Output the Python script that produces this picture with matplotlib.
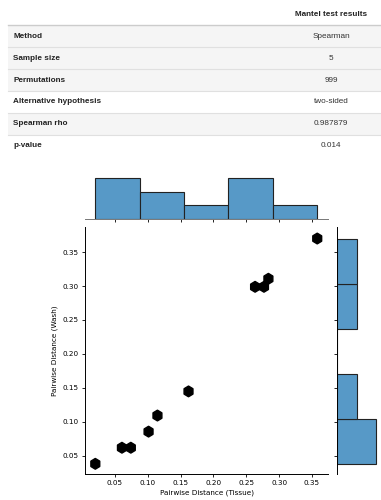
import matplotlib
matplotlib.use("Agg")
import matplotlib.pyplot as plt
from matplotlib.colors import ListedColormap
from matplotlib.patches import Rectangle
import numpy as np

# Mantel test results (table)
row_labels = ['Method', 'Sample size', 'Permutations', 'Alternative hypothesis',
              'Spearman rho', 'p-value']
row_values = ['Spearman', '5', '999', 'two-sided', '0.987879', '0.014']
row_shaded = [True, True, True, False, True, False]

# pairwise distances
tissue = [0.020, 0.062, 0.075, 0.102, 0.115, 0.163, 0.265, 0.278, 0.284, 0.358]
wash = [0.038, 0.062, 0.062, 0.086, 0.110, 0.145, 0.300, 0.300, 0.312, 0.370]

W, H = 381, 500
fig = plt.figure(figsize=(W / 100, H / 100), dpi=100)

# tabelle in pixel-koordinaten
tab = fig.add_axes([0, 0, 1, 1])
tab.set_xlim(0, W)
tab.set_ylim(H, 0)
tab.axis('off')
tfont = dict(family='Liberation Sans', fontsize=5.9)
tab.text(331, 14.3, 'Mantel test results', ha='center', va='center',
         fontweight='bold', color='#222222', **tfont)
tab.plot([8, W], [25, 25], color='#cccccc', lw=1.0)
row_h = 21.8
for i, (lab, val, sh) in enumerate(zip(row_labels, row_values, row_shaded)):
    top = 25.5 + i * row_h
    if sh:
        tab.add_patch(Rectangle((8, top), W - 8, row_h, color='#f5f5f5', lw=0))
    if i < len(row_labels) - 1:
        tab.plot([8, W], [top + row_h, top + row_h], color='#e0e0e0', lw=0.8)
    yc = top + row_h / 2
    tab.text(13, yc, lab, ha='left', va='center', fontweight='bold',
             color='#222222', **tfont)
    tab.text(331, yc, val, ha='center', va='center', color='#333333', **tfont)

fs = 5.2
xlim = (0.0043, 0.3744)
ylim = (0.023, 0.387)
hist_color = '#5799c7'

ax = fig.add_axes([85 / W, 1 - 474 / H, 243 / W, 247 / H])
ax.hexbin(tissue, wash, gridsize=25, mincnt=1,
          cmap=ListedColormap(['black']), edgecolors='face')
ax.set_xlim(xlim)
ax.set_ylim(ylim)
xt = [0.05, 0.10, 0.15, 0.20, 0.25, 0.30, 0.35]
ax.set_xticks(xt)
ax.set_yticks(xt)
ax.tick_params(labelsize=fs, length=2.5, width=0.6, pad=2)
for s in ['top', 'right']:
    ax.spines[s].set_visible(False)
for s in ['left', 'bottom']:
    ax.spines[s].set_linewidth(0.7)
ax.set_xlabel('Pairwise Distance (Tissue)', fontsize=fs, labelpad=2)
ax.set_ylabel('Pairwise Distance (Wash)', fontsize=fs, labelpad=3)

# marginal oben
axx = fig.add_axes([85 / W, 1 - 218.7 / H, 243 / W, 42.7 / H])
axx.hist(tissue, bins=5, color=hist_color, edgecolor='#222222', linewidth=0.8)
axx.set_xlim(xlim)
axx.set_ylim(0, 3.15)
axx.set_xticks(xt)
axx.set_xticklabels([])
axx.set_yticks([])
axx.tick_params(length=2.5, width=0.6)
for s in ['top', 'right', 'left']:
    axx.spines[s].set_visible(False)
axx.spines['bottom'].set_linewidth(0.7)
axx.spines['bottom'].set_color('#777777')

# marginal rechts
axy = fig.add_axes([337 / W, 1 - 474 / H, 41 / W, 247 / H])
axy.hist(wash, bins=5, orientation='horizontal', color=hist_color,
         edgecolor='#222222', linewidth=0.8)
axy.set_ylim(ylim)
axy.set_xlim(0, 4.2)
axy.set_yticks(xt)
axy.set_yticklabels([])
axy.set_xticks([])
axy.tick_params(length=2.5, width=0.6)
for s in ['top', 'right', 'bottom']:
    axy.spines[s].set_visible(False)
axy.spines['left'].set_linewidth(0.7)

fig.savefig('out.png', dpi=100)
